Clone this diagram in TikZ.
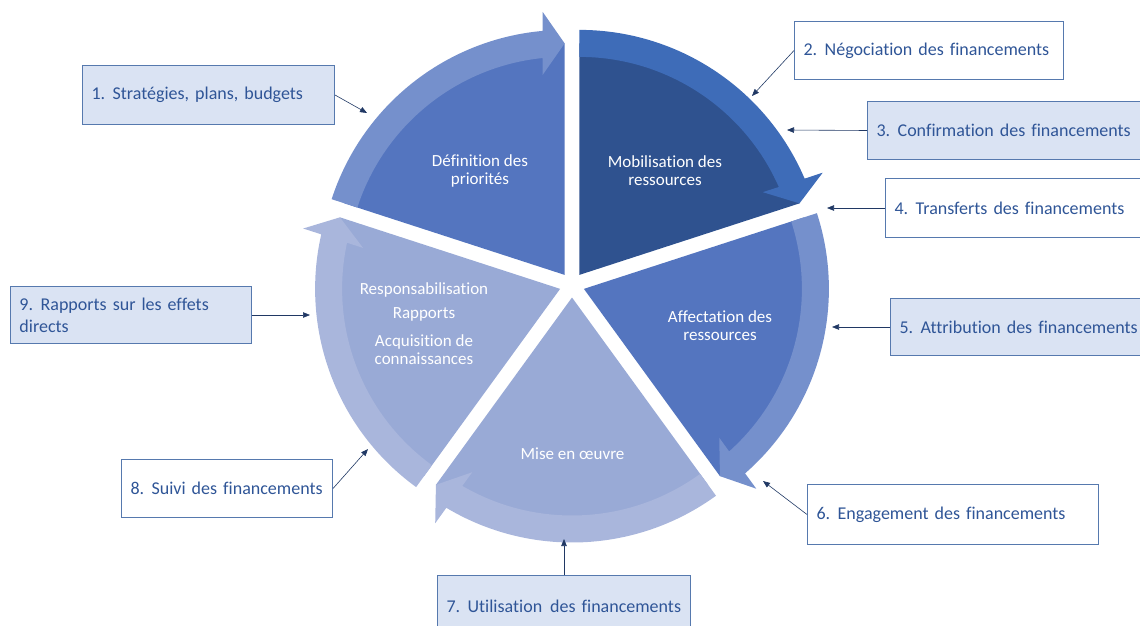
\documentclass[tikz,border=0pt]{standalone}
\usepackage{fontspec}
\setmainfont{Carlito}[Ligatures=NoCommon]
\usetikzlibrary{calc,arrows.meta}
\definecolor{secmid}{HTML}{5475BF}
\definecolor{bandmid}{HTML}{7590CC}
\definecolor{secdark}{HTML}{2F528F}
\definecolor{banddark}{HTML}{3E6CB8}
\definecolor{seclight}{HTML}{99AAD6}
\definecolor{bandlight}{HTML}{A9B6DC}
\definecolor{boxfill}{HTML}{DAE3F3}
\definecolor{boxline}{HTML}{5679AE}
\definecolor{boxtext}{HTML}{2F5597}
\definecolor{linkcol}{HTML}{203864}
\begin{document}
\begin{tikzpicture}[x=1pt,y=-1pt,
    lbl/.style={draw=boxline,line width=1pt,text=boxtext,anchor=north west,
      font=\fontsize{18}{22}\selectfont,inner xsep=9pt,inner ysep=0pt,align=left},
    lblw/.style={lbl,fill=white},
    lblf/.style={lbl,fill=boxfill},
    seg/.style={text=white,align=center,font=\fontsize{17}{18}\selectfont},
    link/.style={draw=linkcol,line width=.6pt,-{Triangle[length=7pt,width=5.5pt]}}]
      \def\Seg[#1,#2,#3]{%
        \begin{scope}[shift={(#1:12.5)}]
          \fill[#2](0,0)--(#1+36:231.5) arc[start angle=#1+36,end angle=#1-36,radius=231.5]--cycle;
          \fill[#3](#1+36:245) arc[start angle=#1+36,end angle=#1-30.86,radius=245]
                --($(#1-36:263)+(#1+54:22)$)--(#1-36:231.5)--($(#1-36:200)+(#1+54:22)$)
                --(#1-30.22:218) arc[start angle=#1-30.22,end angle=#1+36,radius=218]--cycle;
        \end{scope}
      }
      \def\N#1{#1.\hspace{7.5pt}}
      \useasboundingbox(0,0)rectangle(1140,626);
      \begin{scope}[shift={(572,285)},y=1pt]
        \foreach \ang/\fc/\bc in{126/secmid/bandmid, 54/secdark/banddark, -18/secmid/bandmid,
                                 -90/seclight/bandlight, 198/seclight/bandlight}{
          \Seg[\ang,\fc,\bc]
        }
      \end{scope}
      \node[seg](s1) at(480,171){Définition des\\priorités};
      \node[seg](s2) at(665,171){Mobilisation des\\ressources};
      \node[seg](s3) at(720,326){Affectation des\\ressources};
      \node[seg](s4) at(572.5,453.5){Mise en œuvre};
      \node[seg](s5) at(424,324){Responsabilisation\\[6pt]Rapports\\[10pt]Acquisition de\\connaissances};
      % boxes round the cycle
      \node[lblf,text width=234pt,minimum height=59pt](b1) at(82,65){\mbox{\N1Stratégies, plans, budgets}};
      \node[lblw,text width=251pt,minimum height=58pt](b2) at(794,21){\mbox{\N2Négociation des financements}};
      \node[lblf,text width=282pt,minimum height=58pt](b3) at(867,101){\mbox{\N3Confirmation des financements}};
      \node[lblw,text width=282pt,minimum height=59pt](b4) at(885,178){\mbox{\N4Transferts des financements}};
      \node[lblf,text width=282pt,minimum height=57pt](b5) at(890,298){\mbox{\N5Attribution des financements}};
      \node[lblw,text width=273pt,minimum height=60pt](b6) at(807,484){\mbox{\N6Engagement des financements}};
      \node[lblf,text width=235pt,minimum height=62pt](b7) at(437,575){\mbox{\N7Utilisation\hspace{8pt}des financements}};
      \node[lblw,text width=193pt,minimum height=58pt](b8) at(121,459){\mbox{\N8Suivi des financements}};
      \node[lblf,text width=223pt,minimum height=57pt](b9) at(10,286){\N9Rapports sur les effets\\directs};
      \foreach \n/\p in{1/{367,113}, 2/{752,96}, 3/{787,130}, 4/{827,208}, 5/{832,327},
                        6/{763,481}, 7/{564,539}, 8/{368,449}, 9/{310,315}}{
        \coordinate(t\n) at(\p);
      }
      \draw[link](b1.east)--(t1);
      \draw[link](b2.west)--(t2);
      \draw[link](b3.west)--(t3);
      \draw[link](b4.west)--(t4);
      \draw[link](b5.west)--(t5);
      \draw[link](b6.west)--(t6);
      \draw[link](b7.north)--(t7);
      \draw[link](b8.east)--(t8);
      \draw[link](b9.east)--(t9);
\end{tikzpicture}
\end{document}
